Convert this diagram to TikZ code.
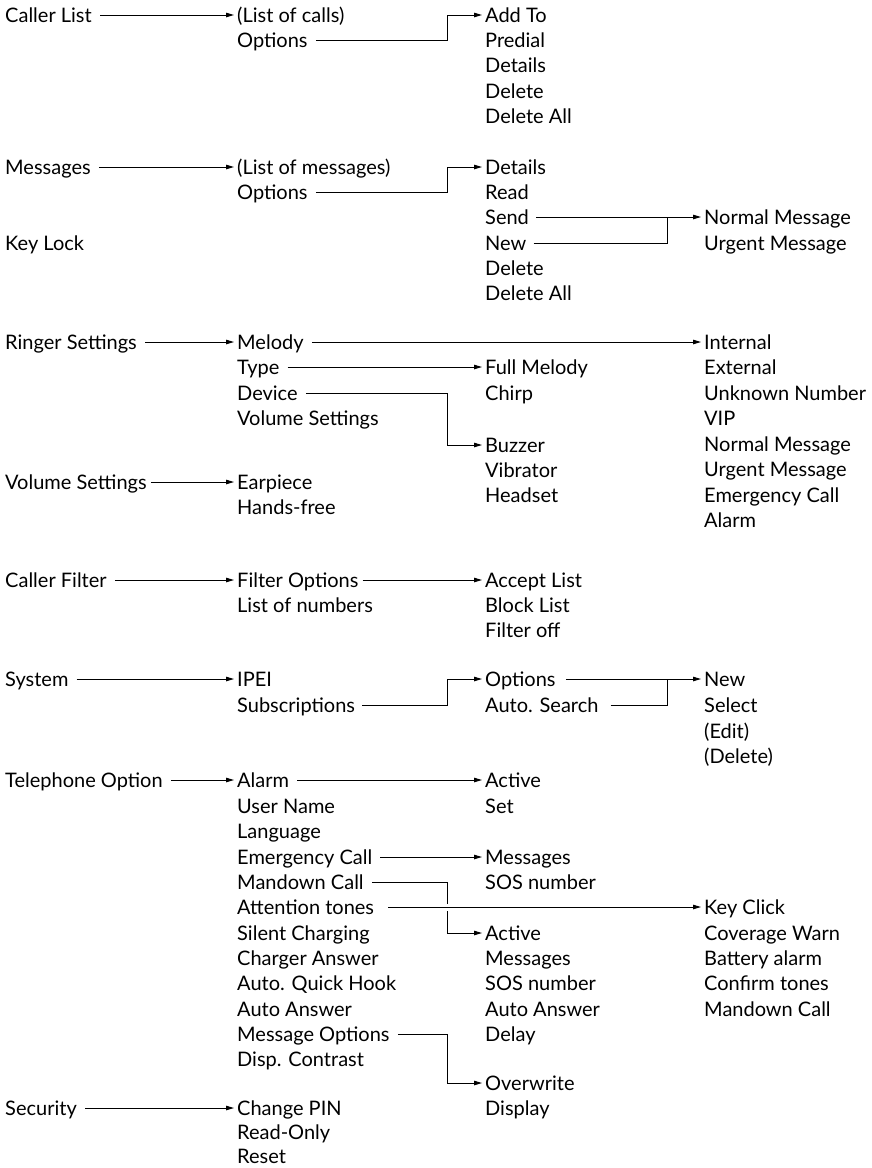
\documentclass[tikz,border=0pt]{standalone}
\usepackage{fontspec}
\setmainfont{Lato}
\usetikzlibrary{arrows.meta}
\newcommand{\itemfont}{\fontsize{20pt}{24pt}\selectfont}
\tikzset{
  item/.style={anchor=west, inner sep=0pt, text height=14.4pt, text depth=0pt, font=\itemfont},
  conn/.style={line width=1pt},
  arr/.style={conn, -{Triangle[length=8pt,width=4.5pt]}, shorten >=3pt}
}
\begin{document}
\begin{tikzpicture}[x=1pt,y=-1pt]
\useasboundingbox (0,0) rectangle (872,1168);
\coordinate (ja) at (447,0);
\coordinate (jb) at (667,0);
% column 0
\node[item] (cl)   at (5,15)   {Caller List};
\node[item] (msgs) at (5,167)  {Messages};
\node[item] (kl)   at (5,243)  {Key Lock};
\node[item] (rs)   at (5,342)  {Ringer Settings};
\node[item] (vs)   at (5,482)  {Volume Settings};
\node[item] (cf)   at (5,580)  {Caller Filter};
\node[item] (sys)  at (5,679)  {System};
\node[item] (tel)  at (5,780)  {Telephone Option};
\node[item] (sec)  at (5,1108) {Security};
% column 1
\node[item] (lcalls) at (237,15)  {(List of calls)};
\node[item] (opta)   at (237,40)  {Options};
\node[item] (lmsgs)  at (237,167) {(List of messages)};
\node[item] (optb)   at (237,192) {Options};
\node[item] (mel)    at (237,342) {Melody};
\node[item] (typ)    at (237,367) {Type};
\node[item] (dev)    at (237,393) {Device};
\node[item] (vsb)    at (237,418) {Volume Settings};
\node[item] (ear)    at (237,482) {Earpiece};
\node[item] (hf)     at (237,507) {Hands-free};
\node[item] (fo)     at (237,580) {Filter Options};
\node[item] (lon)    at (237,605) {List of numbers};
\node[item] (ipei)   at (237,679) {IPEI};
\node[item] (subs)   at (237,705) {Subscriptions};
\node[item] (alm)    at (237,780) {Alarm};
\node[item] (un)     at (237,806) {User Name};
\node[item] (lang)   at (237,831) {Language};
\node[item] (emc)    at (237,857) {Emergency Call};
\node[item] (mdc)    at (237,882) {Mandown Call};
\node[item] (att)    at (237,907) {Attention tones};
\node[item] (sch)    at (237,933) {Silent Charging};
\node[item] (cha)    at (237,958) {Charger Answer};
\node[item] (aqh)    at (237,983) {Auto. Quick Hook};
\node[item] (aan)    at (237,1009) {Auto Answer};
\node[item] (mo)     at (237,1034) {Message Options};
\node[item] (dc)     at (237,1059) {Disp. Contrast};
\node[item] (cpin)   at (237,1108) {Change PIN};
\node[item] (ro)     at (237,1132) {Read-Only};
\node[item] (rst)    at (237,1156) {Reset};
% column 2
\node[item] (addto) at (485,15)  {Add To};
\node[item] (pred)  at (485,40)  {Predial};
\node[item] (deta)  at (485,65)  {Details};
\node[item] (dela)  at (485,91)  {Delete};
\node[item] (dala)  at (485,116) {Delete All};
\node[item] (detb)  at (485,167) {Details};
\node[item] (read)  at (485,192) {Read};
\node[item] (send)  at (485,217) {Send};
\node[item] (new)   at (485,243) {New};
\node[item] (delb)  at (485,268) {Delete};
\node[item] (dalb)  at (485,293) {Delete All};
\node[item] (fm)    at (485,367) {Full Melody};
\node[item] (chirp) at (485,393) {Chirp};
\node[item] (buz)   at (485,445) {Buzzer};
\node[item] (vib)   at (485,470) {Vibrator};
\node[item] (hs)    at (485,495) {Headset};
\node[item] (acc)   at (485,580) {Accept List};
\node[item] (blk)   at (485,605) {Block List};
\node[item] (foff)  at (485,630) {Filter off};
\node[item] (optc)  at (485,679) {Options};
\node[item] (as)    at (485,705) {Auto. Search};
\node[item] (acta)  at (485,780) {Active};
\node[item] (set)   at (485,806) {Set};
\node[item] (msga)  at (485,857) {Messages};
\node[item] (sosa)  at (485,882) {SOS number};
\node[item] (actb)  at (485,933) {Active};
\node[item] (msgb)  at (485,958) {Messages};
\node[item] (sosb)  at (485,983) {SOS number};
\node[item] (aab)   at (485,1009) {Auto Answer};
\node[item] (dly)   at (485,1034) {Delay};
\node[item] (ovw)   at (485,1083) {Overwrite};
\node[item] (disp)  at (485,1108) {Display};
% column 3
\node[item] (nma)  at (704,217) {Normal Message};
\node[item] (uma)  at (704,243) {Urgent Message};
\node[item] (int)  at (704,342) {Internal};
\node[item] (ext)  at (704,367) {External};
\node[item] (unk)  at (704,393) {Unknown Number};
\node[item] (vip)  at (704,418) {VIP};
\node[item] (nmb)  at (704,444) {Normal Message};
\node[item] (umb)  at (704,469) {Urgent Message};
\node[item] (emb)  at (704,495) {Emergency Call};
\node[item] (almb) at (704,520) {Alarm};
\node[item] (newc) at (704,679) {New};
\node[item] (sel)  at (704,705) {Select};
\node[item] (edit) at (704,731) {(Edit)};
\node[item] (delc) at (704,756) {(Delete)};
\node[item] (kc)   at (704,907) {Key Click};
\node[item] (cw)   at (704,933) {Coverage Warn};
\node[item] (ba)   at (704,958) {Battery alarm};
\node[item] (ct)   at (704,983) {Confirm tones};
\node[item] (mdd)  at (704,1009) {Mandown Call};
% connectors
\draw[arr] ([xshift=8pt]cl.east) -- (lcalls.west);
\draw[arr] ([xshift=8pt]opta.east) -- (opta.east -| ja) |- (addto.west);
\draw[arr] ([xshift=8pt]msgs.east) -- (lmsgs.west);
\draw[arr] ([xshift=8pt]optb.east) -- (optb.east -| ja) |- (detb.west);
\draw[arr] ([xshift=7pt]send.east) -- (nma.west);
\draw[conn] ([xshift=7pt]new.east) -- (new.east -| jb) -- (send.east -| jb);
\draw[arr] ([xshift=8pt]rs.east) -- (mel.west);
\draw[arr] ([xshift=8pt]mel.east) -- (int.west);
\draw[arr] ([xshift=8pt]typ.east) -- (fm.west);
\draw[arr] ([xshift=8pt]dev.east) -- (dev.east -| ja) |- (buz.west);
\draw[arr] ([xshift=4pt]vs.east) -- (ear.west);
\draw[arr] ([xshift=8pt]cf.east) -- (fo.west);
\draw[arr] ([xshift=4pt]fo.east) -- (acc.west);
\draw[arr] ([xshift=8pt]sys.east) -- (ipei.west);
\draw[arr] ([xshift=7pt]subs.east) -- (subs.east -| ja) |- (optc.west);
\draw[arr] ([xshift=10pt]optc.east) -- (newc.west);
\draw[conn] ([xshift=12pt]as.east) -- (as.east -| jb) -- (optc.east -| jb);
\draw[arr] ([xshift=8pt]tel.east) -- (alm.west);
\draw[arr] ([xshift=8pt]alm.east) -- (acta.west);
\draw[arr] ([xshift=8pt]emc.east) -- (msga.west);
\draw[arr] ([xshift=8pt]mdc.east) -- (mdc.east -| ja) |- (actb.west);
\draw[arr, preaction={draw=white, line width=7pt, -}] ([xshift=14pt]att.east) -- (kc.west);
\draw[arr] ([xshift=8pt]mo.east) -- (mo.east -| ja) |- (ovw.west);
\draw[arr] ([xshift=8pt]sec.east) -- (cpin.west);
\end{tikzpicture}
\end{document}
